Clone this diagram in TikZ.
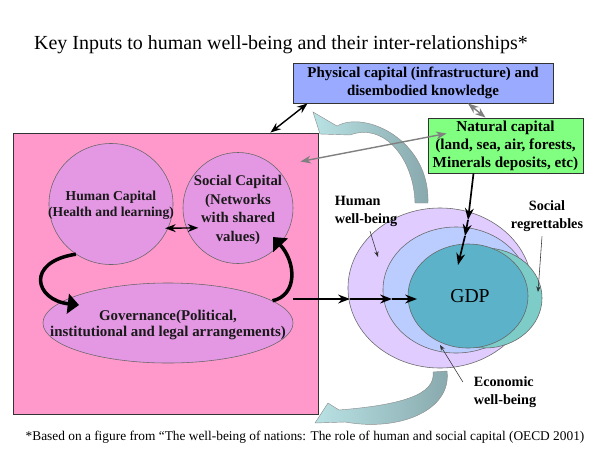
\documentclass[tikz,border=0pt]{standalone}
\usepackage{fontspec}
\setmainfont{Liberation Serif}
\usetikzlibrary{shapes.geometric, arrows.meta, positioning, calc}

\definecolor{pinkbox}{RGB}{255,153,204}
\definecolor{capfill}{RGB}{228,152,228}
\definecolor{physfill}{RGB}{153,170,255}
\definecolor{natfill}{RGB}{128,255,128}
\definecolor{hwbfill}{RGB}{224,204,255}
\definecolor{ewbfill}{RGB}{187,204,255}
\definecolor{gdpfill}{RGB}{92,178,200}
\definecolor{regfill}{RGB}{125,204,200}
\definecolor{bendlight}{RGB}{185,226,228}
\definecolor{benddark}{RGB}{135,168,172}

\begin{document}
\begin{tikzpicture}[
    x=0.025cm, y=-0.025cm,
    >={Stealth},
    base/.style={draw, align=center, inner sep=0pt},
    box/.style={base, rectangle, draw=black!80, line width=0.6pt, font=\fontsize{10.6}{13.2}\selectfont\bfseries},
    blob/.style={base, ellipse, draw=black!60, line width=0.4pt},
    captext/.style={align=center, font=\fontsize{10.5}{13.1}\selectfont\bfseries, text=black!90},
    lbl/.style={align=left, font=\fontsize{10.1}{12.8}\selectfont\bfseries},
    arrow/.style={->, line width=1.2pt, black},
    duo/.style={<->, line width=1pt, black},
    greyduo/.style={<->, line width=1pt, black!50},
    pointer/.style={-{Stealth[length=4pt, width=3pt]}, line width=0.4pt, black!80},
    bigturn/.style={-{Triangle[length=8pt, width=14pt]}, line width=2.5pt, black},
    bandarrow/.style={draw=black!45, line width=0.3pt, left color=bendlight, right color=benddark}
  ]
    \useasboundingbox (0,0) rectangle (593,449);
    \node[font=\fontsize{14.2}{17}\selectfont] (title) at (281,45)
    {Key Inputs to human well-being and their inter-relationships*};

    \node[box, fill=pinkbox, minimum width=7.625cm, minimum height=7.025cm] (inputs) at (165.5,273.5) {};
    \node[blob, fill=capfill, minimum width=3.1cm, minimum height=3.025cm] (human) at (111,204) {};
    \node[captext, font=\fontsize{9.7}{11.6}\selectfont\bfseries] at (111,205) {Human Capital\\(Health and learning)};
    \node[blob, fill=capfill, minimum width=2.75cm, minimum height=2.775cm] (social) at (238,208) {};
    \node[captext] at (238,210) {Social Capital\\(Networks\\with shared\\values)};
    \node[blob, fill=capfill, minimum width=6.25cm, minimum height=2cm] (gov) at (168,323) {};
    \node[captext, font=\fontsize{10.6}{12}\selectfont\bfseries] at (168,325) {Governance(Political,\\institutional and legal arrangements)};
    \coordinate (turnL) at (79,305);
    \coordinate (turnR) at (273,237);
    \draw[duo] ($(human.-23)+(-3,0)$) -- ($(social.201)+(12,0)$);
    \draw[bigturn] (human.235) .. controls (25,262) and (35,300) .. (turnL);
    \draw[bigturn] (gov.12) .. controls (298,295) and (296,262) .. (turnR);

    \node[blob, fill=hwbfill, minimum width=4.6cm, minimum height=4cm] (hwb) at (440,288) {};
    \node[blob, fill=ewbfill, minimum width=3.65cm, minimum height=3.15cm] (ewb) at (456,290) {};
    \node[blob, fill=regfill, minimum width=2.85cm, minimum height=2.5cm] (reg) at (485,298) {};
    \node[blob, fill=gdpfill, minimum width=3cm, minimum height=2.6cm] (gdp) at (468,296) {};
    \node[font=\fontsize{14}{16}\selectfont] at (470,296) {GDP};

    \node[lbl] (hwbl) at (366,211) {Human\\well-being};
    \node[lbl, align=center] (regl) at (547,216) {Social\\regrettables};
    \node[lbl] (ewbl) at (505,392) {Economic\\well-being};
    \coordinate (hwbtip) at (378,257);
    \coordinate (regtip) at (538,292);
    \coordinate (ewbtip) at (440,345);
    \draw[pointer] ($(hwbl.south)+(4,0)$) -- (hwbtip);
    \draw[pointer] ($(regl.south)+(-5,0)$) -- (regtip);
    \draw[pointer] ($(ewbl.west)+(-6,-10)$) -- (ewbtip);

    \path[bandarrow] (313,112) -- (337,126) .. controls (365,110) and (430,140) .. (428,203)
      -- (415,203) .. controls (414,160) and (385,122) .. (350,135) -- (320,134) -- cycle;
    \path[bandarrow] (315,423) -- (328,403) -- (339,410) .. controls (400,405) and (436,395) .. (433,372)
      -- (447,371) .. controls (452,410) and (400,432) .. (345,422) -- cycle;

    \node[box, fill=physfill, minimum width=6.5cm, minimum height=1cm] (phys) at (423,83)
    {Physical capital (infrastructure) and\\disembodied knowledge};
    \node[box, fill=natfill, minimum width=3.875cm, minimum height=1.375cm,
      font=\fontsize{10.8}{12.8}\selectfont\bfseries] (nat) at (505.5,145.5)
    {Natural capital\\(land, sea, air, forests,\\Minerals deposits, etc)};

    \draw[duo] ($(phys.south west)+(15,0)$) -- ($(inputs.north east)+(-48,0)$);
    \draw[greyduo] ($(phys.south)+(45,0)$) -- ($(nat.north)+(-20,0)$);
    \draw[greyduo] ($(nat.west)+(19,-12)$) -- ($(inputs.north east)+(-18,29)$);

    \coordinate (g0) at (293,299);
    \coordinate (g1) at (350,299);
    \coordinate (g2) at (392,299);
    \coordinate (g3) at (417,299);
    \draw[arrow] (g0) -- (g1);
    \draw[arrow] (g1) -- (g2);
    \draw[arrow] (g2) -- (g3);
    \coordinate (n1) at (468,220);
    \coordinate (n2) at (465,236);
    \coordinate (n3) at (458,265);
    \draw[arrow] ($(nat.south)+(-32,0)$) -- (n1);
    \draw[arrow] (n1) -- (n2);
    \draw[arrow] (n2) -- (n3);

    \node[font=\fontsize{9.5}{11}\selectfont] (note) at (305,437)
    {*Based on a figure from “The well-being of nations: The role of human and social capital (OECD 2001)};
\end{tikzpicture}
\end{document}
